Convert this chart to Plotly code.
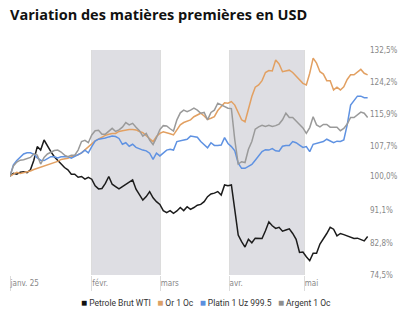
import plotly.graph_objects as go

# ---- data (index 100 = start, trading-day index on x) ----
wti = [100.0, 100.7, 100.5, 101.0, 101.1, 100.9, 101.6, 104.1, 107.6, 106.7,
       109.3, 107.6, 106.3, 105.0, 104.1, 103.1, 102.2, 101.6, 100.5, 100.5,
       99.7, 99.9, 99.2, 99.7, 99.2, 97.5, 96.7, 96.8, 98.1, 99.9,
       97.9, 97.3, 96.7, 97.3, 97.9, 98.4, 99.0, 96.6, 95.0, 93.8,
       94.7, 96.0, 94.4, 93.4, 92.7, 91.1, 90.6, 91.1, 90.4, 91.0,
       91.9, 91.1, 92.1, 91.4, 91.9, 92.5, 92.7, 93.4, 94.7, 95.4,
       95.6, 96.0, 95.1, 97.7, 97.5, 97.7, 91.3, 84.8, 83.1, 81.7,
       83.7, 82.8, 84.0, 84.0, 83.9, 85.9, 88.2, 87.2, 86.5, 86.8,
       85.8, 86.1, 86.4, 85.2, 83.7, 80.3, 80.4, 79.2, 78.2, 80.1,
       80.1, 82.5, 83.7, 85.2, 86.8, 86.3, 84.6, 85.2, 84.9, 84.6,
       84.4, 83.9, 84.0, 83.7, 83.3, 84.4]

gold = [100.0, 100.5, 101.0, 100.7, 100.9, 101.0, 101.3, 101.7, 102.0, 102.3,
        102.6, 103.0, 103.3, 103.5, 103.8, 104.3, 104.4, 104.6, 105.0, 105.2,
        105.5, 106.0, 106.7, 107.4, 108.3, 109.1, 109.6, 110.0, 110.5, 110.8,
        111.0, 111.0, 111.5, 111.7, 111.9, 112.0, 112.0, 111.9, 111.5, 111.2,
        110.4, 109.6, 108.9, 110.2, 111.0, 111.4, 111.2, 110.9, 110.6, 112.0,
        113.2, 113.8, 114.1, 114.5, 115.3, 115.7, 116.2, 115.5, 114.6, 114.9,
        115.3, 116.9, 117.9, 118.9, 118.8, 119.2, 118.3, 116.6, 114.5, 114.0,
        117.5, 120.5, 122.9, 123.5, 124.6, 126.7, 127.2, 127.1, 129.9, 128.9,
        126.9, 127.2, 127.3, 126.7, 125.8, 124.9, 123.9, 123.5, 126.5, 130.4,
        129.1, 126.9, 126.3, 124.6, 124.6, 122.2, 122.9, 122.2, 123.0, 124.9,
        126.1, 126.1, 126.9, 127.5, 126.5, 126.1]

platinum = [100.0, 102.9, 104.0, 104.8, 105.7, 106.0, 106.0, 105.6, 104.7, 104.1,
            104.0, 104.5, 105.0, 105.0, 104.7, 105.0, 105.0, 105.0, 104.6, 105.0,
            105.4, 106.0, 106.7, 106.0, 107.6, 109.0, 109.5, 109.6, 109.8, 110.1,
            110.3, 110.2, 109.7, 108.2, 108.6, 107.7, 108.2, 107.4, 107.0, 106.7,
            106.5, 105.9, 104.3, 105.9, 105.2, 106.0, 106.7, 106.9, 106.7, 108.9,
            109.1, 109.3, 109.5, 110.3, 110.2, 110.0, 108.9, 108.0, 107.3, 108.6,
            107.9, 107.9, 108.0, 109.9, 108.4, 107.6, 106.5, 103.3, 102.0, 102.0,
            102.4, 103.0, 104.1, 105.3, 106.3, 106.8, 106.7, 107.1, 106.5, 106.4,
            107.7, 107.9, 107.9, 108.9, 108.6, 108.0, 107.4, 107.6, 106.3, 108.2,
            108.4, 108.6, 108.9, 109.5, 109.1, 108.6, 109.0, 108.9, 109.3, 113.2,
            118.3, 119.4, 120.6, 120.6, 120.2, 120.2]

silver = [100.0, 102.6, 103.6, 104.1, 104.2, 104.5, 104.8, 105.7, 105.4, 103.1,
          104.8, 105.7, 106.2, 106.6, 106.7, 106.2, 105.4, 105.0, 105.4, 105.4,
          106.7, 108.9, 109.2, 108.6, 110.6, 111.7, 111.8, 110.8, 110.8, 111.5,
          112.3, 111.5, 111.9, 112.6, 113.8, 113.2, 113.6, 112.6, 111.7, 110.3,
          111.0, 109.3, 108.1, 109.9, 112.0, 113.0, 112.9, 112.2, 111.6, 114.5,
          116.3, 117.0, 116.6, 117.0, 117.5, 117.0, 116.2, 116.4, 114.5, 116.4,
          117.0, 118.8, 118.3, 117.9, 117.5, 117.4, 109.3, 103.1, 103.7, 103.5,
          106.9, 108.9, 112.1, 112.7, 113.1, 112.8, 113.1, 112.8, 113.0, 113.4,
          114.5, 116.2, 115.1, 115.1, 114.1, 113.3, 112.4, 111.0, 112.5, 115.3,
          113.2, 112.7, 113.3, 113.3, 112.6, 112.6, 112.6, 111.7, 112.3, 113.4,
          115.1, 115.1, 115.7, 116.5, 116.2, 115.1]

day_index = list(range(len(wti)))

series_names = ["Petrole Brut WTI", "Or 1 Oc", "Platin 1 Uz 999.5", "Argent 1 Oc"]
series_values = [wti, gold, platinum, silver]
series_colors = ["#1c1c1c", "#e2a062", "#5f92e2", "#9a9a9a"]
legend_colors = ["#111111", "#dba066", "#5b8fdf", "#8e8e8e"]

# month starts (in trading-day index) and labels
month_starts = [0, 24, 44.1, 64.3, 86.4]
month_labels = ["janv. 25", "févr.", "mars", "avr.", "mai"]
shaded_months = [(24, 44.1), (64.3, 86.4)]

y_tickvals = [74.5, 82.8, 91.1, 100.0, 107.7, 115.9, 124.2, 132.5]
y_ticktext = ["74,5%", "82,8%", "91,1%", "100,0%", "107,7%", "115,9%", "124,2%", "132,5%"]

fig = go.Figure()

for name, vals, col in zip(series_names, series_values, series_colors):
    fig.add_trace(go.Scatter(x=day_index, y=vals, mode="lines", name=name,
                             line=dict(color=col, width=1.5), showlegend=False,
                             hoverinfo="skip"))

for x0, x1 in shaded_months:
    fig.add_shape(type="rect", xref="x", yref="paper", x0=x0, x1=x1, y0=0, y1=1,
                  fillcolor="#dedee3", line=dict(width=0), layer="below")

# compact legend (square swatches + names) as one text line
legend_parts = []
for name, col in zip(series_names, legend_colors):
    legend_parts.append(f'<span style="color:{col};font-size:10px">■</span> {name}')
legend_text = "&nbsp;&nbsp;&nbsp;".join(legend_parts)
fig.add_annotation(text=legend_text, xref="paper", yref="paper",
                   x=(206 - 10) / 359, y=-(302 - 275) / 225,
                   xanchor="center", yanchor="middle", showarrow=False,
                   font=dict(family="Roboto, sans-serif", size=8.5, color="#333333"))

fig.update_layout(
    width=408, height=323,
    margin=dict(l=10, r=39, t=50, b=48, autoexpand=False),
    paper_bgcolor="white", plot_bgcolor="white",
    title=dict(text="<b>Variation des matières premières en USD</b>",
               x=10 / 408, xanchor="left", y=1 - 15 / 323, yanchor="middle",
               font=dict(family="Open Sans, sans-serif", size=14.5, color="#111111")),
    showlegend=False,
    xaxis=dict(range=[0, 105.4], tickvals=month_starts, ticktext=month_labels,
               showgrid=True, gridcolor="#dcdcdc", gridwidth=1,
               ticks="outside", ticklen=15, tickcolor="#dcdcdc", tickwidth=1,
               ticklabelposition="outside right",
               tickfont=dict(family="Liberation Sans Narrow, DejaVu Sans Condensed, sans-serif",
                             size=8, color="#888888"),
               showline=False, zeroline=False, fixedrange=True),
    yaxis=dict(range=[74.5, 132.5], side="right", tickvals=y_tickvals, ticktext=y_ticktext,
               showgrid=False, zeroline=False, showline=False, ticks="",
               tickfont=dict(family="Liberation Sans Narrow, DejaVu Sans Condensed, sans-serif",
                             size=8, color="#888888"),
               fixedrange=True),
)

fig.write_html("out.html")
